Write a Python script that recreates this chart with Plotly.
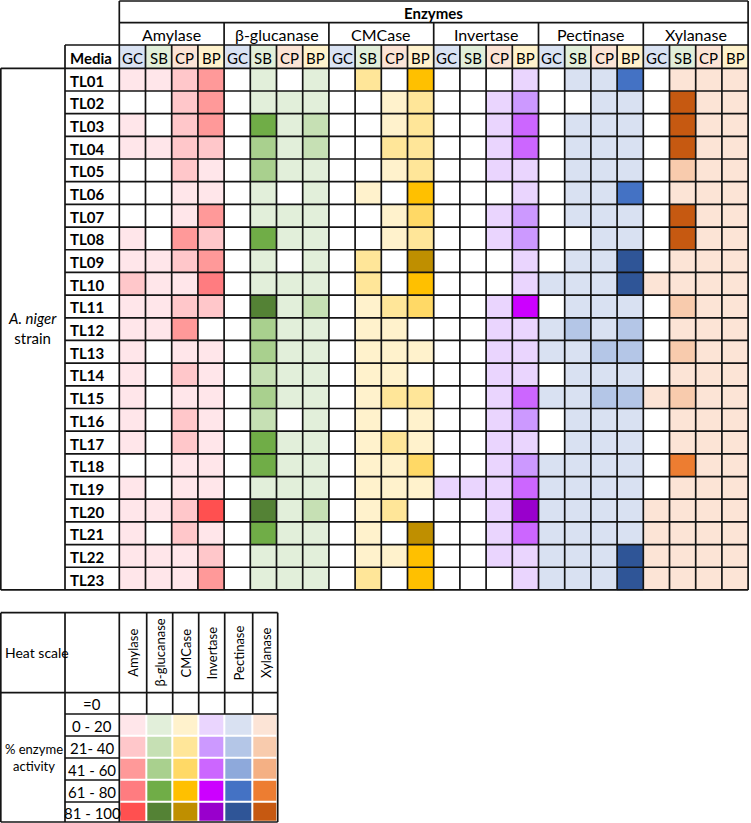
import plotly.graph_objects as go

# ---------------- DATA (activity level: 0 = 0, 1 = 0-20, 2 = 21-40, 3 = 41-60, 4 = 61-80, 5 = 81-100)
strains = ["TL%02d" % i for i in range(1, 24)]
media = ["GC", "SB", "CP", "BP"]
enzymes = ["Amylase", "β-glucanase", "CMCase", "Invertase", "Pectinase", "Xylanase"]
scale_labels = ["=0", "0 - 20", "21- 40", "41 - 60", "61 - 80", "81 - 100"]

amylase = [[1,1,2,3],[0,0,2,3],[1,0,2,3],[1,1,2,2],[0,0,2,1],[0,0,1,1],[0,0,1,3],[1,0,3,2],
           [1,1,2,3],[2,1,1,4],[1,1,2,2],[1,1,3,0],[1,0,1,1],[1,0,2,1],[1,0,1,1],[1,0,2,1],
           [1,0,2,1],[0,0,1,1],[1,0,1,1],[1,1,2,5],[1,0,2,1],[1,1,1,2],[1,1,1,3]]
bglucanase = [[0,1,0,1],[0,1,1,1],[0,4,1,2],[0,3,1,2],[0,3,1,1],[0,1,0,1],[0,1,1,1],[0,4,1,1],
              [0,1,0,1],[0,1,1,1],[0,5,1,2],[0,3,1,1],[0,3,1,1],[0,2,1,1],[0,3,1,1],[0,2,0,1],
              [0,4,1,1],[0,4,1,1],[0,1,1,1],[0,5,1,2],[0,4,1,1],[0,1,1,1],[0,1,1,1]]
cmcase = [[0,2,0,4],[0,0,1,2],[0,0,1,2],[0,0,2,2],[0,0,1,2],[0,1,0,4],[0,0,1,3],[0,0,1,2],
          [0,2,0,5],[0,2,0,4],[0,1,2,3],[0,1,1,0],[0,1,1,1],[0,1,1,0],[0,1,2,2],[0,1,0,1],
          [0,1,2,1],[0,1,1,3],[0,1,1,1],[0,1,2,0],[0,1,0,5],[0,1,1,4],[0,2,0,4]]
invertase = [[0,0,0,1],[0,0,1,2],[0,0,1,3],[0,0,1,3],[0,0,1,1],[0,0,0,1],[0,0,1,2],[0,0,1,2],
             [0,0,0,1],[0,0,0,1],[0,0,1,4],[0,0,1,1],[0,0,1,1],[0,0,1,1],[0,0,1,3],[0,0,1,2],
             [0,0,1,1],[0,0,1,2],[1,1,1,3],[0,0,1,5],[0,0,1,3],[0,0,1,1],[0,0,0,1]]
pectinase = [[0,1,1,4],[0,0,1,1],[0,1,1,1],[0,1,1,1],[0,1,1,1],[0,1,1,4],[0,1,1,1],[0,0,1,1],
             [0,1,1,5],[1,1,1,5],[0,1,1,1],[1,2,1,2],[1,1,2,2],[0,1,1,1],[1,1,2,2],[0,1,1,1],
             [0,1,1,1],[1,1,1,1],[1,1,1,1],[1,1,1,1],[1,1,1,1],[1,1,1,5],[1,1,1,5]]
xylanase = [[0,1,1,1],[0,5,1,1],[0,5,1,1],[0,5,1,1],[0,2,1,1],[0,1,1,1],[0,5,1,1],[0,5,1,1],
            [0,1,1,1],[1,1,1,1],[0,2,1,1],[0,1,1,1],[0,2,1,1],[0,1,1,1],[1,2,1,1],[0,1,1,1],
            [0,1,1,1],[0,4,1,1],[0,1,1,1],[1,1,1,1],[1,1,1,1],[1,1,1,1],[1,1,1,1]]
all_data = [amylase, bglucanase, cmcase, invertase, pectinase, xylanase]

# ---------------- STYLE
palettes = [
    ["#FFFFFF", "#FFE6EA", "#FFC7CA", "#FF9999", "#FF7C80", "#FF5050"],
    ["#FFFFFF", "#E2EFDA", "#C6E0B4", "#A9D08E", "#70AD47", "#548235"],
    ["#FFFFFF", "#FFF2CC", "#FFE699", "#FFD966", "#FFC000", "#BF8F00"],
    ["#FFFFFF", "#EAD5FE", "#CC99FF", "#CC66FF", "#CC00FF", "#9900CC"],
    ["#FFFFFF", "#D9E1F2", "#B4C6E7", "#8EA9DB", "#4472C4", "#2F5597"],
    ["#FFFFFF", "#FCE4D6", "#F8CBAD", "#F4B084", "#ED7D31", "#C65911"],
]
media_colors = ["#DAE3F3", "#E2EFDA", "#FCE4D6", "#FFF2CC"]
FONT = "Lato"
LINE = "#141414"

W, H = 751, 823
X_STRAIN, X_MEDIA, X_DATA, CW = 0.8, 65.0, 119.3, 26.2
Y_TOP, Y_GROUP, Y_MEDIA, Y_DATA, RH = 1.0, 22.7, 45.0, 68.3, 22.68
NCOL, NROW = 24, 23
X_END = X_DATA + NCOL * CW
Y_BOT = Y_DATA + NROW * RH

L_TOP, L_HEAD = 612.7, 692.7
L_X = [0.8, 65.0, 119.3, 146.7, 172.7, 198.7, 224.7, 252.7, 277.7]
L_Y = [692.7, 714.0, 736.0, 758.0, 780.0, 802.0, 822.0]


def discrete_scale(colors):
    n = len(colors)
    cs = []
    for i, c in enumerate(colors):
        cs.append([i / n, c])
        cs.append([(i + 1) / n, c])
    return cs


flat_colors = [c for p in palettes for c in p]
cscale = discrete_scale(flat_colors)

fig = go.Figure()

# main grid
z = []
for r in range(NROW):
    row = []
    for g, data in enumerate(all_data):
        for m in range(4):
            row.append(g * 6 + data[r][m])
    z.append(row)

xe = [X_DATA + j * CW for j in range(NCOL + 1)]
ye = [Y_DATA + i * RH for i in range(NROW + 1)]
fig.add_trace(go.Heatmap(z=z, x=xe, y=ye, colorscale=cscale, zmin=-0.5, zmax=len(flat_colors) - 0.5,
                         showscale=False, hoverinfo="skip"))

# media header row
fig.add_trace(go.Heatmap(z=[[j % 4 for j in range(NCOL)]], x=xe, y=[Y_MEDIA, Y_DATA],
                         colorscale=discrete_scale(media_colors), zmin=-0.5, zmax=3.5,
                         showscale=False, hoverinfo="skip"))

# legend heat scale
lz = [[e * 6 + lvl for e in range(6)] for lvl in range(6)]
fig.add_trace(go.Heatmap(z=lz, x=L_X[2:], y=L_Y, colorscale=cscale, zmin=-0.5,
                         zmax=len(flat_colors) - 0.5, xgap=2, ygap=2,
                         showscale=False, hoverinfo="skip"))

# grid lines
lx, ly = [], []


def hseg(y, x0, x1):
    lx.extend([x0, x1, None]); ly.extend([y, y, None])


def vseg(x, y0, y1):
    lx.extend([x, x, None]); ly.extend([y0, y1, None])


hseg(Y_TOP, X_DATA, X_END)
hseg(Y_GROUP, X_DATA, X_END)
hseg(Y_MEDIA, X_MEDIA, X_END)
for i in range(NROW + 1):
    hseg(Y_DATA + i * RH, X_STRAIN if i in (0, NROW) else X_MEDIA, X_END)
vseg(X_STRAIN, Y_DATA, Y_BOT)
vseg(X_MEDIA, Y_MEDIA, Y_BOT)
for j in range(NCOL + 1):
    x = X_DATA + j * CW
    if j in (0, NCOL):
        vseg(x, Y_TOP, Y_BOT)
    elif j % 4 == 0:
        vseg(x, Y_GROUP, Y_BOT)
    else:
        vseg(x, Y_MEDIA, Y_BOT)

# legend lines
hseg(L_TOP, L_X[0], L_X[-1])
hseg(L_HEAD, L_X[0], L_X[-1])
hseg(L_Y[1], L_X[1], L_X[-1])
for y in L_Y[2:-1]:
    hseg(y, L_X[1], L_X[2])
hseg(L_Y[-1], L_X[0], L_X[-1])
for k, x in enumerate(L_X):
    if k in (0, 1, 2, len(L_X) - 1):
        vseg(x, L_TOP, L_Y[-1])
    else:
        vseg(x, L_TOP, L_Y[1])

fig.add_trace(go.Scatter(x=lx, y=ly, mode="lines", line=dict(color=LINE, width=1.7),
                         hoverinfo="skip", showlegend=False, cliponaxis=False))

ann = []


def text(x, y, s, size=15, xanchor="center", angle=0, bold=False):
    if bold:
        s = "<b>%s</b>" % s
    ann.append(dict(x=x, y=y, xref="x", yref="y", text=s, showarrow=False, xanchor=xanchor,
                    yanchor="middle", textangle=angle,
                    font=dict(family=FONT, size=size, color="#000")))


text((X_DATA + X_END) / 2, (Y_TOP + Y_GROUP) / 2 + 1, "Enzymes", 15, bold=True)
for g, name in enumerate(enzymes):
    text(X_DATA + (g * 4 + 2) * CW, (Y_GROUP + Y_MEDIA) / 2 + 1, name, 16)
text(X_MEDIA + 3, (Y_MEDIA + Y_DATA) / 2 + 1, "Media", 15, xanchor="left", bold=True)
for j in range(NCOL):
    text(X_DATA + (j + 0.5) * CW, (Y_MEDIA + Y_DATA) / 2 + 1, media[j % 4], 15)
for i, s in enumerate(strains):
    text(X_MEDIA + 3, Y_DATA + (i + 0.5) * RH + 1, s, 15, xanchor="left", bold=True)
text((X_STRAIN + X_MEDIA) / 2, (Y_DATA + Y_BOT) / 2 - 1, "<i>A. niger</i><br>strain", 15)

# legend text
text(3, (L_TOP + L_HEAD) / 2, "Heat scale", 14, xanchor="left")
for k, s in enumerate(scale_labels):
    text((L_X[1] + L_X[2]) / 2, (L_Y[k] + L_Y[k + 1]) / 2 + 1, s, 15)
text((L_X[0] + L_X[1]) / 2 + 1, (L_Y[0] + L_Y[-1]) / 2, "% enzyme<br>activity", 13)
for e, name in enumerate(enzymes):
    text((L_X[e + 2] + L_X[e + 3]) / 2, (L_TOP + L_HEAD) / 2, name, 13, angle=-90)

fig.update_layout(
    width=W, height=H, margin=dict(l=0, r=0, t=0, b=0),
    paper_bgcolor="white", plot_bgcolor="white", showlegend=False,
    xaxis=dict(range=[0, W], visible=False, fixedrange=True),
    yaxis=dict(range=[H, 0], visible=False, fixedrange=True),
    annotations=ann,
)
fig.write_html("out.html", config={"displayModeBar": False},
               post_script="document.body.style.margin='0';document.body.style.padding='0';")
